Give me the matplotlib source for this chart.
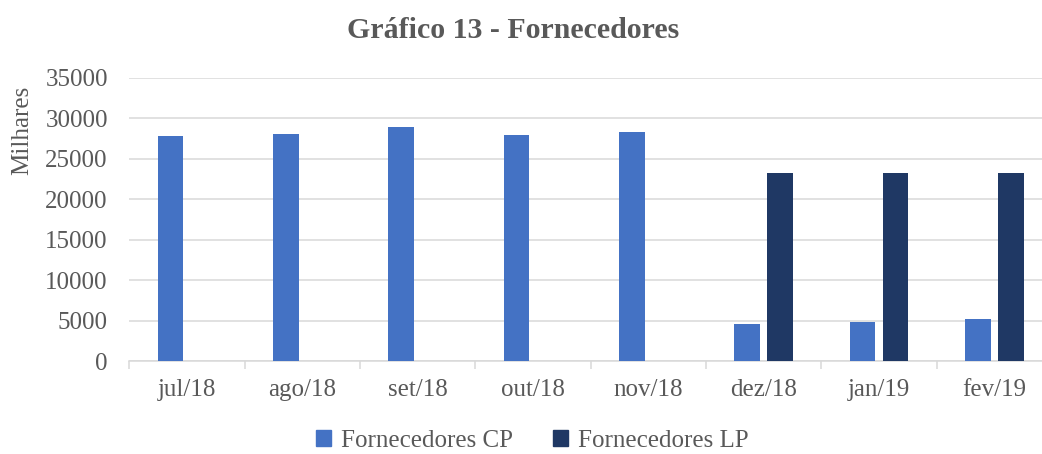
import matplotlib
matplotlib.use("Agg")
import matplotlib.pyplot as plt
import numpy as np
from matplotlib.patches import Patch

categories = ["jul/18", "ago/18", "set/18", "out/18", "nov/18", "dez/18", "jan/19", "fev/19"]
fornecedores_cp = [27800, 28050, 28950, 28000, 28350, 4580, 4780, 5150]
fornecedores_lp = [0, 0, 0, 0, 0, 23300, 23300, 23300]
series_names = ["Fornecedores CP", "Fornecedores LP"]

W, H = 1042, 454
fig = plt.figure(figsize=(W / 100, H / 100), dpi=100)
plt.rcParams['font.family'] = ['Liberation Serif', 'DejaVu Serif']
txt = '#595959'
fs = 18

ax = fig.add_axes([129.3 / W, 93 / H, (1052 - 129.3) / W, 283 / H])
x = np.arange(len(categories))
w = 0.22
off = 0.143
ax.bar(x - off, fornecedores_cp, w, color='#4472C4', zorder=3)
ax.bar(x + off, fornecedores_lp, w, color='#1F3864', zorder=3)

ax.set_xlim(-0.5, len(categories) - 0.5)
ax.set_ylim(0, 35000)
ax.set_yticks(np.arange(0, 35001, 5000))
ax.yaxis.grid(True, color='#D9D9D9', linewidth=1.1, zorder=0)
ax.set_axisbelow(True)
for s in ['top', 'right', 'left']:
    ax.spines[s].set_visible(False)
ax.spines['bottom'].set_color('#D9D9D9')
ax.spines['bottom'].set_linewidth(1.1)
ax.tick_params(axis='y', length=0, pad=15.5, labelsize=fs, labelcolor=txt)
ax.set_xticks(x)
ax.set_xticklabels(categories)
ax.tick_params(axis='x', which='major', length=0, pad=13, labelsize=fs, labelcolor=txt)
ax.set_xticks(np.arange(-0.5, len(categories), 1.0), minor=True)
ax.tick_params(axis='x', which='minor', length=5.5, width=1.1, color='#D9D9D9')

fig.text(22 / W, 1 - 130 / H, "Milhares", rotation=90, ha='center', va='center',
         fontsize=fs, color=txt)
fig.text(513 / W, 1 - 30 / H, "Gráfico 13 - Fornecedores", ha='center', va='center',
         fontsize=21.5, fontweight='bold', color=txt)

handles = [Patch(color='#4472C4'), Patch(color='#1F3864')]
fig.legend(handles, series_names, loc='center', bbox_to_anchor=(532 / W, 1 - 441 / H),
           ncol=2, frameon=False, fontsize=fs, labelcolor=txt,
           handlelength=0.6, handleheight=0.6, handletextpad=0.4, columnspacing=1.6)

fig.savefig("out.png", dpi=100)
